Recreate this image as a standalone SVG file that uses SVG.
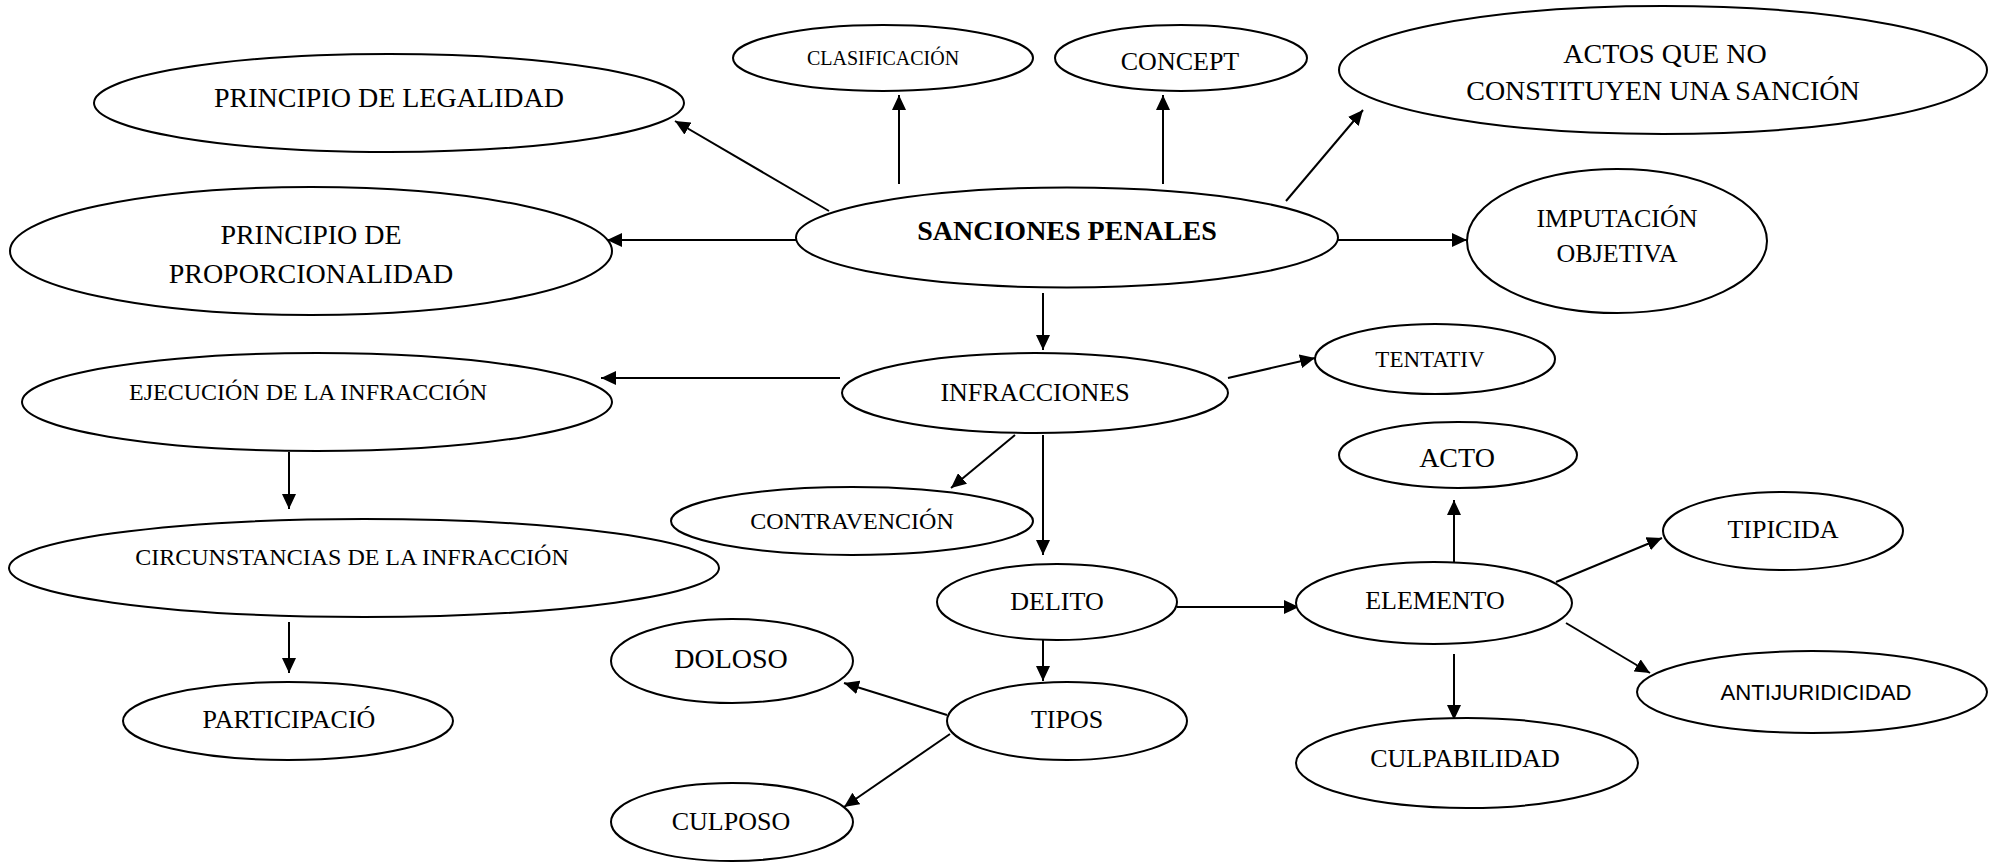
<svg xmlns="http://www.w3.org/2000/svg" width="1990" height="863" viewBox="0 0 1990 863">
<defs>
<marker id="arr" markerUnits="userSpaceOnUse" markerWidth="16" markerHeight="14" refX="15" refY="7" orient="auto">
<path d="M0,0 L15,7 L0,14 z" fill="#000"/>
</marker>
<style>
ellipse{fill:#fff;stroke:#000;stroke-width:2}
text{font-family:"Liberation Serif","Times New Roman",serif;fill:#000;text-anchor:middle}
.f20{font-size:20px}.f23{font-size:23px}.f24{font-size:24px}.f26{font-size:26px}.f28{font-size:28px}
.b{font-weight:bold}
.sans{font-family:"Liberation Sans",Arial,sans-serif;font-size:22px}
#edges line{stroke:#000;stroke-width:2;marker-end:url(#arr)}
</style>
</defs>
<rect width="1990" height="863" fill="#fff"/>
<g id="edges">
<line x1="829" y1="211" x2="675" y2="121"/>
<line x1="796" y1="240" x2="607" y2="240"/>
<line x1="899" y1="184" x2="899" y2="95"/>
<line x1="1163" y1="184" x2="1163" y2="95"/>
<line x1="1286" y1="201" x2="1363" y2="110"/>
<line x1="1337" y1="240" x2="1467" y2="240"/>
<line x1="1043" y1="293" x2="1043" y2="350"/>
<line x1="840" y1="378" x2="601" y2="378"/>
<line x1="1228" y1="378" x2="1315" y2="358"/>
<line x1="1015" y1="435" x2="951" y2="488"/>
<line x1="1043" y1="435" x2="1043" y2="555"/>
<line x1="289" y1="452" x2="289" y2="509"/>
<line x1="289" y1="622" x2="289" y2="673"/>
<line x1="1043" y1="640" x2="1043" y2="681"/>
<line x1="1177" y1="607" x2="1299" y2="607"/>
<line x1="947" y1="715" x2="844" y2="683"/>
<line x1="950" y1="734" x2="844" y2="807"/>
<line x1="1454" y1="562" x2="1454" y2="500"/>
<line x1="1556" y1="582" x2="1662" y2="538"/>
<line x1="1566" y1="623" x2="1650" y2="673"/>
<line x1="1454" y1="654" x2="1454" y2="720"/>
</g>
<g id="n-legalidad"><ellipse cx="389" cy="103" rx="295" ry="49"/><text class="f28" x="389" y="107">PRINCIPIO DE LEGALIDAD</text></g>
<g id="n-proporcionalidad"><ellipse cx="311" cy="251" rx="301" ry="64"/><text class="f28" x="311" y="244">PRINCIPIO DE</text><text class="f28" x="311" y="283">PROPORCIONALIDAD</text></g>
<g id="n-sanciones"><ellipse cx="1067" cy="237.5" rx="271" ry="50"/><text class="f28 b" x="1067" y="240">SANCIONES PENALES</text></g>
<g id="n-clasificacion"><ellipse cx="883" cy="58" rx="150" ry="33"/><text class="f20" x="883" y="65">CLASIFICACIÓN</text></g>
<g id="n-concept"><ellipse cx="1181" cy="58" rx="126" ry="33"/><text class="f26" x="1180" y="70">CONCEPT</text></g>
<g id="n-actos"><ellipse cx="1663" cy="70" rx="324" ry="64"/><text class="f28" x="1665" y="63">ACTOS QUE NO</text><text class="f28" x="1663" y="100">CONSTITUYEN UNA SANCIÓN</text></g>
<g id="n-imputacion"><ellipse cx="1617" cy="241" rx="150" ry="72"/><text class="f26" x="1617" y="227">IMPUTACIÓN</text><text class="f26" x="1617" y="262">OBJETIVA</text></g>
<g id="n-ejecucion"><ellipse cx="317" cy="402" rx="295" ry="49"/><text class="f24" x="308" y="400">EJECUCIÓN DE LA INFRACCIÓN</text></g>
<g id="n-circunstancias"><ellipse cx="364" cy="568" rx="355" ry="49"/><text class="f24" x="352" y="565">CIRCUNSTANCIAS DE LA INFRACCIÓN</text></g>
<g id="n-participacion"><ellipse cx="288" cy="721" rx="165" ry="39"/><text class="f26" x="289" y="728">PARTICIPACIÓ</text></g>
<g id="n-doloso"><ellipse cx="732" cy="661" rx="121" ry="42"/><text class="f28" x="731" y="668">DOLOSO</text></g>
<g id="n-culposo"><ellipse cx="732" cy="822" rx="121" ry="39"/><text class="f26" x="731" y="830">CULPOSO</text></g>
<g id="n-infracciones"><ellipse cx="1035" cy="393" rx="193" ry="40"/><text class="f26" x="1035" y="401">INFRACCIONES</text></g>
<g id="n-tentativ"><ellipse cx="1435" cy="359" rx="120" ry="35"/><text class="f23" x="1430" y="367">TENTATIV</text></g>
<g id="n-contravencion"><ellipse cx="852" cy="521" rx="181" ry="34"/><text class="f24" x="852" y="529">CONTRAVENCIÓN</text></g>
<g id="n-delito"><ellipse cx="1057" cy="602" rx="120" ry="38"/><text class="f26" x="1057" y="610">DELITO</text></g>
<g id="n-tipos"><ellipse cx="1067" cy="721" rx="120" ry="39"/><text class="f26" x="1067" y="728">TIPOS</text></g>
<g id="n-elemento"><ellipse cx="1434" cy="603" rx="138" ry="41"/><text class="f26" x="1435" y="609">ELEMENTO</text></g>
<g id="n-culpabilidad"><ellipse cx="1467" cy="763" rx="171" ry="45"/><text class="f26" x="1465" y="767">CULPABILIDAD</text></g>
<g id="n-acto"><ellipse cx="1458" cy="455" rx="119" ry="33"/><text class="f28" x="1457" y="467">ACTO</text></g>
<g id="n-tipicida"><ellipse cx="1783" cy="531" rx="120" ry="39"/><text class="f26" x="1783" y="538">TIPICIDA</text></g>
<g id="n-antijuridicidad"><ellipse cx="1812" cy="692" rx="175" ry="41"/><text class="sans" x="1816" y="700" textLength="191" lengthAdjust="spacingAndGlyphs">ANTIJURIDICIDAD</text></g>
</svg>
